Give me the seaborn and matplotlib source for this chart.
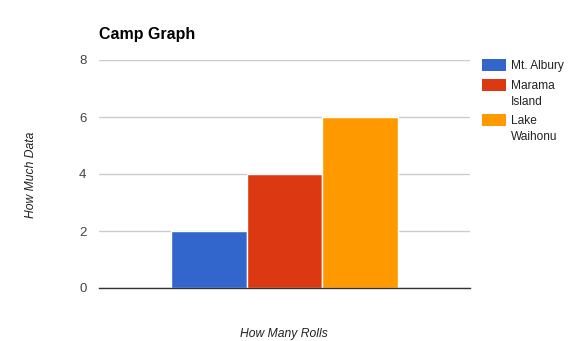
import matplotlib
matplotlib.use("Agg")
import matplotlib.pyplot as plt
import seaborn as sns
import pandas as pd
from matplotlib.patches import Rectangle

# Data
categories = [""]
series = ["Mt. Albury", "Marama Island", "Lake Waihonu"]
legend_labels = ["Mt. Albury", "Marama\nIsland", "Lake\nWaihonu"]
values = [2, 4, 6]
colors = ["#3366cc", "#dc3912", "#ff9900"]
yticks = [0, 2, 4, 6, 8]

sns.set_theme(style="white")
plt.rcParams['font.family'] = ['Liberation Sans', 'DejaVu Sans']

W, H = 574, 341
fig = plt.figure(figsize=(W / 100, H / 100), dpi=100)
ax = fig.add_axes([99 / W, 53 / H, (470 - 99) / W, (288 - 60) / H])

df = pd.DataFrame({"cat": categories * len(series), "series": series, "value": values})
sns.barplot(data=df, x="cat", y="value", hue="series", palette=colors, ax=ax,
            width=0.612, edgecolor="white", linewidth=1, legend=False, saturation=1)

ax.set_xlim(-0.5, 0.5)
ax.set_ylim(0, 8)
ax.set_yticks(yticks)
ax.set_yticklabels([str(t) for t in yticks], fontsize=9.5, color="#444444")
ax.tick_params(axis="y", length=0, pad=9)
ax.set_xticks([])
ax.set_xlabel("")
ax.set_ylabel("")
for s in ["top", "right", "left"]:
    ax.spines[s].set_visible(False)
ax.spines["bottom"].set_color("#333333")
ax.spines["bottom"].set_linewidth(1)
ax.grid(axis="y", color="#cccccc", linewidth=1)
ax.set_axisbelow(True)

fig.text(99 / W, 1 - 34 / H, "Camp Graph", fontsize=11.5, fontweight="bold",
         color="black", ha="left", va="center")
fig.text(284 / W, 1 - 333.5 / H, "How Many Rolls", fontsize=8.7, style="italic",
         color="#222222", ha="center", va="center")
fig.text(31.5 / W, 1 - 174.5 / H, "How Much Data", fontsize=8.7, style="italic",
         color="#222222", ha="center", va="center", rotation=90)

# Legend
rect_tops = [59, 79, 114]
for top, lab, col in zip(rect_tops, legend_labels, colors):
    fig.add_artist(Rectangle((482 / W, 1 - (top + 12) / H), 24 / W, 12 / H,
                             transform=fig.transFigure, facecolor=col, edgecolor="none"))
    lines = lab.split("\n")
    for i, ln in enumerate(lines):
        fig.text(511 / W, 1 - (top + 7 + i * 16.5) / H, ln, fontsize=8.6,
                 color="#222222", ha="left", va="center")

fig.savefig("out.png", dpi=100)
